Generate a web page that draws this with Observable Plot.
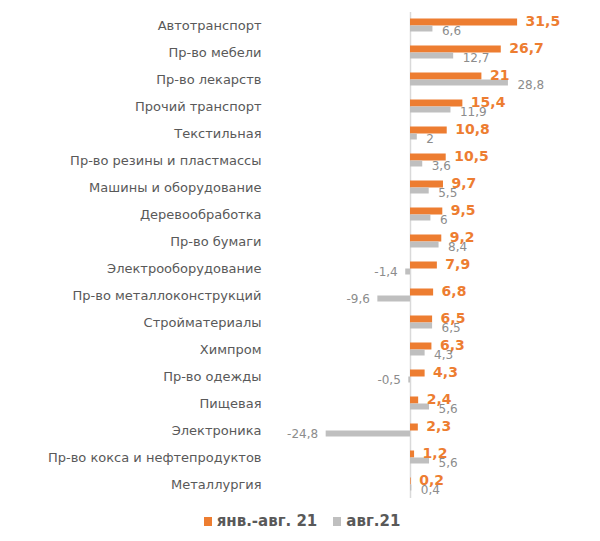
<!DOCTYPE html>
<html>
<head>
<meta charset="utf-8">
<script src="https://cdn.jsdelivr.net/npm/d3@7"></script>
<script src="https://cdn.jsdelivr.net/npm/@observablehq/plot@0.6"></script>
<style>
  body { margin: 0; background: #fff; font-family: "DejaVu Sans", Verdana, sans-serif; }
  #legend { display: flex; justify-content: center; align-items: center; margin-top: 13px;
            font: bold 15px "DejaVu Sans", Verdana, sans-serif; color: #595959; padding-left: 4px; }
  .sw { display: inline-block; width: 8px; height: 9px; margin-right: 5px; }
  .item { display: flex; align-items: center; }
</style>
</head>
<body>
<div id="chart"></div>
<div id="legend">
  <span class="item"><span class="sw" style="background:#ED7D31"></span>янв.-авг. 21</span>
  <span class="item" style="margin-left:16px"><span class="sw" style="background:#BFBFBF"></span>авг.21</span>
</div>
<script>
const categories = [
  "Автотранспорт", "Пр-во мебели", "Пр-во лекарств", "Прочий транспорт", "Текстильная",
  "Пр-во резины и пластмассы", "Машины и оборудование", "Деревообработка", "Пр-во бумаги",
  "Электрооборудование", "Пр-во металлоконструкций", "Стройматериалы", "Химпром",
  "Пр-во одежды", "Пищевая", "Электроника", "Пр-во кокса и нефтепродуктов", "Металлургия"
];
const janAug = [31.5, 26.7, 21, 15.4, 10.8, 10.5, 9.7, 9.5, 9.2, 7.9, 6.8, 6.5, 6.3, 4.3, 2.4, 2.3, 1.2, 0.2];
const aug = [6.6, 12.7, 28.8, 11.9, 2, 3.6, 5.5, 6, 8.4, -1.4, -9.6, 6.5, 4.3, -0.5, 5.6, -24.8, 5.6, 0.4];
const seriesNames = ["янв.-авг. 21", "авг.21"];

const fmt = v => String(v).replace(".", ",");
const dataA = categories.map((c, i) => ({cat: c, v: janAug[i]}));
const dataB = categories.map((c, i) => ({cat: c, v: aug[i]}));

const bw = 27; // band width: (499-12-1)/18
const half = bw / 2;

const chart = Plot.plot({
  width: 600,
  height: 499,
  marginTop: 12,
  marginBottom: 1,
  marginLeft: 308,
  marginRight: 54,
  x: { domain: [-30, 40], axis: null },
  y: { domain: categories, padding: 0, axis: null },
  style: { fontFamily: "DejaVu Sans, Verdana, sans-serif", background: "white" },
  marks: [
    Plot.ruleX([0], { stroke: "#d9d9d9", strokeWidth: 1.5 }),
    Plot.barX(dataA, { x: "v", y: "cat", fill: "#ED7D31", insetTop: half - 7, insetBottom: half }),
    Plot.barX(dataB, { x: "v", y: "cat", fill: "#BFBFBF", insetTop: half, insetBottom: half - 6 }),
    Plot.axisY({ tickSize: 0, tickPadding: 47, fontSize: 13, color: "#595959", label: null }),
    Plot.text(dataA, { x: "v", y: "cat", text: d => fmt(d.v), textAnchor: "start", dx: 8, dy: -4,
      fill: "#ED7D31", fontWeight: "bold", fontSize: 14 }),
    Plot.text(dataB.filter(d => d.v >= 0), { x: "v", y: "cat", text: d => fmt(d.v), textAnchor: "start",
      dx: 9, dy: 5, fill: "#8c8c8c", fontSize: 12 }),
    Plot.text(dataB.filter(d => d.v < 0), { x: "v", y: "cat", text: d => fmt(d.v), textAnchor: "end",
      dx: -8, dy: 3, fill: "#8c8c8c", fontSize: 12 })
  ]
});
document.getElementById("chart").appendChild(chart);
</script>
</body>
</html>
